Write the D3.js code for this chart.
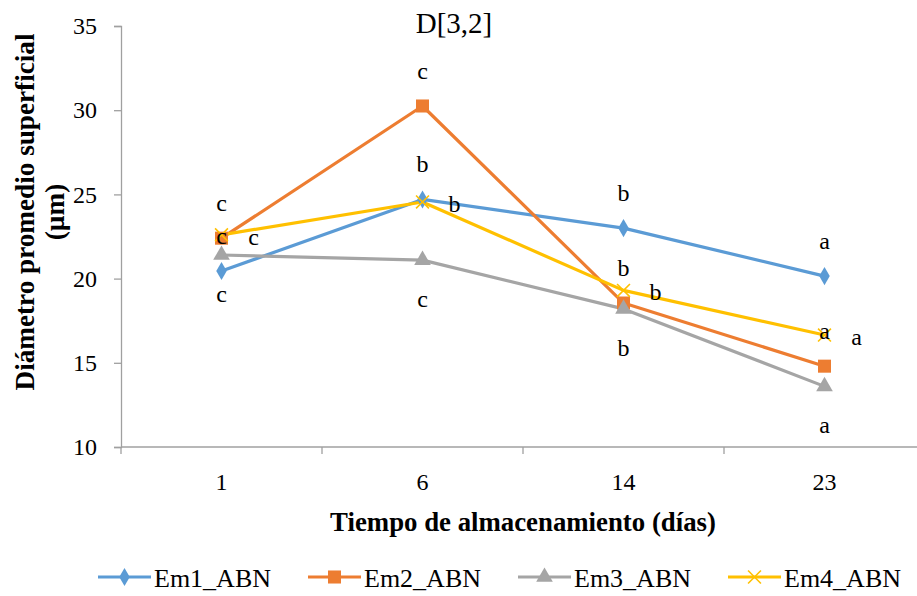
<!DOCTYPE html>
<html>
<head>
<meta charset="utf-8">
<script src="https://cdn.jsdelivr.net/npm/d3@7"></script>
<style>
  body { margin: 0; background: #fff; }
  svg { display: block; }
  svg text { font-family: "Liberation Serif", "Times New Roman", serif; }
</style>
</head>
<body>
<div id="chart"></div>
<script>
// categories (days) and series values
const days = ["1", "6", "14", "23"];
const em1 = [20.45, 24.7, 23.0, 20.15];
const em2 = [22.4, 30.25, 18.55, 14.8];
const em3 = [21.4, 21.1, 18.2, 13.6];
const em4 = [22.6, 24.55, 19.3, 16.65];

// significance letters for every point
const em1Letters = ["c", "b", "b", "a"];
const em2Letters = ["c", "c", "b", "a"];
const em3Letters = ["c", "c", "b", "a"];
const em4Letters = ["c", "b", "b", "a"];

const yTicks = [10, 15, 20, 25, 30, 35];

const series = [
    { name: "Em1_ABN", values: em1, letters: em1Letters, color: "#5b9bd5", symbol: d3.symbolDiamond, size: 95, labelAt: "above" },
    { name: "Em2_ABN", values: em2, letters: em2Letters, color: "#ed7d31", symbol: d3.symbolSquare, size: 170, labelAt: "above" },
    { name: "Em3_ABN", values: em3, letters: em3Letters, color: "#a5a5a5", symbol: d3.symbolTriangle, size: 120, labelAt: "below" },
    { name: "Em4_ABN", values: em4, letters: em4Letters, color: "#ffc000", symbol: d3.symbolTimes, size: 110, labelAt: "right" }
];

const width = 917, height = 596;
const margin = { top: 26, left: 121, bottom: 149 };
const plotRight = 925;

const svg = d3.select("#chart")
    .append("svg")
    .attr("width", width)
    .attr("height", height);

const x = d3.scaleBand()
    .domain(days)
    .range([margin.left, plotRight])
    .padding(0);

const y = d3.scaleLinear()
    .domain([10, 35])
    .range([height - margin.bottom, margin.top]);

const axisColor = "#a0a0a0";
const serif = "Liberation Serif, Times New Roman, serif";

// y axis
const yAxis = svg.append("g")
    .attr("transform", `translate(${margin.left},0)`)
    .call(d3.axisLeft(y).tickValues(yTicks).tickSize(7).tickPadding(17));
yAxis.attr("font-family", serif);
yAxis.select(".domain").attr("stroke", axisColor).attr("stroke-width", 1.3);
yAxis.selectAll(".tick line").attr("stroke", axisColor).attr("stroke-width", 1.3);
yAxis.selectAll(".tick text")
    .attr("font-size", 24)
    .attr("fill", "#000");

// x axis: line with ticks at the category boundaries
const xAxisG = svg.append("g")
    .attr("transform", `translate(0,${y(10)})`);
xAxisG.append("line")
    .attr("x1", margin.left).attr("x2", plotRight)
    .attr("stroke", axisColor).attr("stroke-width", 1.3);
const boundaries = days.map(d => x(d)).concat([x(days[days.length - 1]) + x.bandwidth()]);
xAxisG.selectAll(".xt")
    .data(boundaries)
    .join("line")
    .attr("x1", d => d).attr("x2", d => d)
    .attr("y1", 0).attr("y2", 7)
    .attr("stroke", axisColor).attr("stroke-width", 1.3);
xAxisG.selectAll(".xl")
    .data(days)
    .join("text")
    .attr("x", d => x(d) + x.bandwidth() / 2)
    .attr("y", 43)
    .attr("text-anchor", "middle")
    .attr("font-size", 24)
    .text(d => d);

const cx = (i) => x(days[i]) + x.bandwidth() / 2;

// lines
const line = d3.line()
    .x((d, i) => cx(i))
    .y(d => y(d));

series.forEach(s => {
    svg.append("path")
        .datum(s.values)
        .attr("d", line)
        .attr("fill", "none")
        .attr("stroke", s.color)
        .attr("stroke-width", 3.2)
        .attr("stroke-linejoin", "round");
});

function drawMarker(g, s, px, py) {
    const stroked = s.symbol === d3.symbolTimes;
    g.append("path")
        .attr("d", d3.symbol().type(s.symbol).size(s.size)())
        .attr("transform", `translate(${px},${py})`)
        .attr("fill", stroked ? "none" : s.color)
        .attr("stroke", stroked ? s.color : "none")
        .attr("stroke-width", stroked ? 1.6 : 0);
}

series.forEach(s => {
    s.values.forEach((v, i) => drawMarker(svg, s, cx(i), y(v)));
});

// letter labels
series.forEach(s => {
    s.values.forEach((v, i) => {
        let lx = cx(i), ly = y(v);
        if (s.labelAt === "above") ly -= 27;
        else if (s.labelAt === "below") ly += 47;
        else if (s.labelAt === "right") { lx += 32; ly += 10; }
        svg.append("text")
            .attr("x", lx)
            .attr("y", ly)
            .attr("text-anchor", "middle")
            .attr("font-size", 24)
            .attr("fill", "#000")
            .text(s.letters[i]);
    });
});

// chart title
svg.append("text")
    .attr("x", 454)
    .attr("y", 33)
    .attr("text-anchor", "middle")
    .attr("font-size", 29)
    .text("D[3,2]");

// axis titles
svg.append("text")
    .attr("x", (margin.left + plotRight) / 2)
    .attr("y", 531)
    .attr("text-anchor", "middle")
    .attr("font-size", 26.8)
    .attr("font-weight", "bold")
    .text("Tiempo de almacenamiento (días)");

const yTitle = svg.append("text")
    .attr("transform", "translate(34,212) rotate(-90)")
    .attr("text-anchor", "middle")
    .attr("font-size", 27.2)
    .attr("font-weight", "bold");
yTitle.append("tspan").attr("x", 0).attr("y", 0).text("Diámetro promedio superficial");
yTitle.append("tspan").attr("x", 0).attr("y", 30).text("(µm)");

// legend
const legend = svg.append("g")
    .attr("transform", "translate(98,577)");
series.forEach((s, i) => {
    const g = legend.append("g").attr("transform", `translate(${i * 210},0)`);
    g.append("line")
        .attr("x1", 0).attr("x2", 53)
        .attr("stroke", s.color).attr("stroke-width", 3.2);
    drawMarker(g, s, 26.5, 0);
    g.append("text")
        .attr("x", 56)
        .attr("y", 10)
        .attr("font-size", 26)
        .attr("fill", "#000")
        .text(s.name);
});
</script>
</body>
</html>
